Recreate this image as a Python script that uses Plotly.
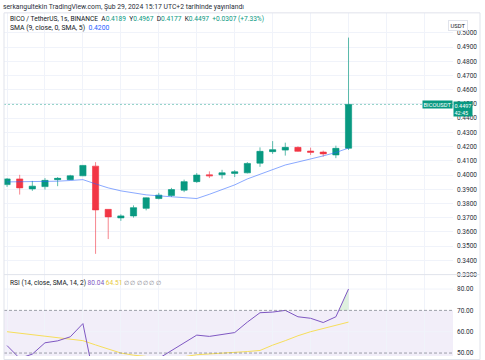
import plotly.graph_objects as go

# ---------------- data ----------------
bars = list(range(28))
open_ = [0.3933, 0.3973, 0.3903, 0.3919, 0.3968, 0.3968, 0.3995, 0.4063, 0.3759, 0.3699,
         0.3713, 0.3766, 0.3835, 0.3856, 0.3894, 0.3954, 0.4002, 0.4002, 0.4012, 0.4016,
         0.4084, 0.4165, 0.4176, 0.4195, 0.4169, 0.4162, 0.4142, 0.4189]
high = [0.3979, 0.4002, 0.3959, 0.3979, 0.3986, 0.4002, 0.4070, 0.4091, 0.3759, 0.3724,
        0.3787, 0.3842, 0.3875, 0.3910, 0.3968, 0.4014, 0.4026, 0.4037, 0.4035, 0.4091,
        0.4195, 0.4239, 0.4228, 0.4202, 0.4193, 0.4172, 0.4207, 0.4967]
low = [0.3917, 0.3863, 0.3889, 0.3898, 0.3922, 0.3965, 0.3993, 0.3446, 0.3550, 0.3678,
       0.3701, 0.3752, 0.3829, 0.3847, 0.3880, 0.3945, 0.3979, 0.3975, 0.3986, 0.4012,
       0.4058, 0.4149, 0.4137, 0.4164, 0.4142, 0.4130, 0.4119, 0.4177]
close = [0.3973, 0.3910, 0.3922, 0.3963, 0.3977, 0.3995, 0.4068, 0.3755, 0.3706, 0.3713,
         0.3771, 0.3840, 0.3859, 0.3898, 0.3954, 0.4000, 0.3995, 0.4016, 0.4023, 0.4082,
         0.4167, 0.4179, 0.4195, 0.4167, 0.4160, 0.4149, 0.4188, 0.4497]
sma9 = [0.3952, 0.3952, 0.3953, 0.3955, 0.3957, 0.3962, 0.3968, 0.3938, 0.3910, 0.3889,
        0.3875, 0.3861, 0.3854, 0.3847, 0.3840, 0.3835, 0.3865, 0.3899, 0.3931, 0.3973,
        0.4005, 0.4042, 0.4071, 0.4092, 0.4112, 0.4135, 0.4159, 0.4190]
rsi = [53.5, 47.5, 49.5, 54.8, 55.7, 57.6, 63.8, 35.0, 31.0, 32.5,
       38.0, 43.5, 47.5, 51.2, 55.0, 58.4, 57.8, 58.7, 59.6, 64.5,
       68.9, 69.2, 70.0, 67.0, 66.3, 64.3, 67.0, 80.04]
rsi_ma = [60.0, 59.3, 58.7, 57.9, 57.2, 56.5, 55.8, 53.8, 51.9, 50.0,
          49.0, 48.2, 47.8, 47.8, 48.3, 49.2, 49.5, 49.9, 50.2, 50.7,
          51.2, 53.7, 55.8, 58.1, 60.0, 61.5, 63.1, 64.51]
price_ticks = [round(0.33 + 0.01 * i, 2) for i in range(18)]
rsi_ticks = [50, 60, 70, 80]

header = "serkangultekin TradingView.com, Şub 29, 2024 15:17 UTC+2 tarihinde yayınlandı"

# ---------------- style ----------------
W, H = 485, 360
GREEN = "#089981"
RED = "#F23645"
PURPLE = "#7E57C2"
YELLOW = "#F6DE5A"
GRID = "#F0F3FA"
TXT = "#131722"
FONT = "Roboto"

x0p, x1p = 4 / W, 453 / W
split = 1 - 277.7 / H
top = 1 - 13 / H
xr = [-0.24, 35.26]

fig = go.Figure()

# RSI band fill 30-70
fig.add_shape(type="rect", xref="x2", yref="y2", x0=xr[0], x1=xr[1], y0=30, y1=70,
              fillcolor="rgba(126,87,194,0.10)", line_width=0, layer="below")

fig.add_trace(go.Candlestick(
    x=bars, open=open_, high=high, low=low, close=close,
    increasing=dict(line=dict(color="rgba(8,153,129,0.65)", width=1), fillcolor=GREEN),
    decreasing=dict(line=dict(color="rgba(242,54,69,0.6)", width=1), fillcolor=RED),
    whiskerwidth=0, xaxis="x", yaxis="y", showlegend=False, hoverinfo="skip"))

fig.add_trace(go.Scatter(x=bars, y=sma9, mode="lines", xaxis="x", yaxis="y",
                         line=dict(color="rgba(41,98,255,0.55)", width=1),
                         showlegend=False, hoverinfo="skip"))

# overbought fill above 70
fx, fy = [], []
for i in range(1, len(rsi)):
    if rsi[i] > 70 and rsi[i - 1] <= 70:
        t = (70 - rsi[i - 1]) / (rsi[i] - rsi[i - 1])
        xc = bars[i - 1] + t * (bars[i] - bars[i - 1])
        fx += [xc, bars[i], bars[i], xc]
        fy += [70, rsi[i], 70, 70]
if fx:
    fig.add_trace(go.Scatter(x=fx, y=fy, mode="lines", fill="toself",
                             fillcolor="rgba(76,175,80,0.18)", line=dict(width=0),
                             xaxis="x2", yaxis="y2", showlegend=False, hoverinfo="skip"))

fig.add_trace(go.Scatter(x=bars, y=rsi_ma, mode="lines", xaxis="x2", yaxis="y2",
                         line=dict(color=YELLOW, width=1), showlegend=False, hoverinfo="skip"))
fig.add_trace(go.Scatter(x=bars, y=rsi, mode="lines", xaxis="x2", yaxis="y2",
                         line=dict(color=PURPLE, width=1), showlegend=False, hoverinfo="skip"))

# RSI grid & band lines
for v in [60, 80]:
    fig.add_shape(type="line", xref="x2", yref="y2", x0=xr[0], x1=xr[1], y0=v, y1=v,
                  line=dict(color=GRID, width=1), layer="below")
for v in [70, 50, 30]:
    fig.add_shape(type="line", xref="x2", yref="y2", x0=xr[0], x1=xr[1], y0=v, y1=v,
                  line=dict(color="rgba(120,123,134,0.7)", width=1, dash="3px,2px"))

# price line
fig.add_shape(type="line", xref="paper", yref="y", x0=x0p, x1=x1p, y0=close[-1], y1=close[-1],
              line=dict(color="rgba(8,153,129,0.45)", width=1, dash="2px,2px"))

# pane separator and frame
fig.add_shape(type="line", xref="paper", yref="paper", x0=x0p, x1=480 / W, y0=split, y1=split,
              line=dict(color="#E0E3EB", width=1))
fig.add_shape(type="rect", xref="paper", yref="paper", x0=x0p, x1=480 / W, y0=-0.01, y1=top,
              line=dict(color="#E0E3EB", width=1))

axis_common = dict(showline=False, zeroline=False, ticks="", fixedrange=True)
fig.update_layout(
    width=W, height=H, margin=dict(l=0, r=0, t=0, b=0), autosize=False,
    paper_bgcolor="white", plot_bgcolor="white",
    font=dict(family=FONT, size=6.5, color=TXT),
    xaxis=dict(domain=[x0p, x1p], range=xr, anchor="y", showticklabels=False,
               showgrid=True, gridcolor=GRID, gridwidth=1, tick0=0, dtick=3,
               rangeslider=dict(visible=False), **axis_common),
    yaxis=dict(domain=[split, top], range=[0.3300, 0.5141], side="right", anchor="x",
               tickvals=price_ticks, tickformat=".4f", showgrid=True, gridcolor=GRID,
               tickfont=dict(size=6.5, color="#2a2e39"), ticklabelstandoff=3, **axis_common),
    xaxis2=dict(domain=[x0p, x1p], range=xr, anchor="y2", showticklabels=False,
                showgrid=True, gridcolor=GRID, gridwidth=1, tick0=0, dtick=3, **axis_common),
    yaxis2=dict(domain=[0, split], range=[48.61, 86.77], side="right", anchor="x2",
                tickvals=rsi_ticks, tickformat=".2f", showgrid=False,
                tickfont=dict(size=6.5, color="#2a2e39"), ticklabelstandoff=3, **axis_common),
)

def g(s):
    return f'<span style="color:{GREEN}">{s}</span>'

ann = [
    dict(x=0.5 / W, y=1 - 7 / H, text=header, font=dict(size=6.8, color="#2a2e39")),
    dict(x=8 / W, y=1 - 19 / H,
         text=("BICO / TetherUS, 1s, BINANCE  A" + g(f"{open_[-1]:.4f}") + "  Y" + g(f"{max(high):.4f}")
               + "  D" + g(f"{low[-1]:.4f}") + "  K" + g(f"{close[-1]:.4f}")
               + "  " + g("+0.0307 (+7.33%)")),
         font=dict(size=6.6, color=TXT)),
    dict(x=8 / W, y=1 - 28 / H,
         text='SMA (9, close, 0, SMA, 5)  <span style="color:#2962FF">0.4200</span>',
         font=dict(size=6.8, color=TXT)),
    dict(x=8 / W, y=1 - 285.7 / H,
         text=(f'RSI (14, close, SMA, 14, 2) <span style="color:{PURPLE}">{rsi[-1]:.2f}</span> '
               f'<span style="color:#E8C93A">{rsi_ma[-1]:.2f}</span> '
               '<span style="color:#787B86;font-size:5.5px">∅ ∅ ∅ ∅ ∅ ∅</span>'),
         font=dict(size=6.6, color=TXT)),
]
for a in ann:
    fig.add_annotation(xref="paper", yref="paper", xanchor="left", yanchor="middle",
                       showarrow=False, **a)

# USDT box
fig.add_annotation(xref="paper", yref="paper", x=467.5 / W, y=1 - 20 / H, text="USDT",
                   showarrow=False, font=dict(size=5.8, color=TXT), bgcolor="white",
                   bordercolor="#E0E3EB", borderwidth=1, borderpad=1.5)
# price tags
fig.add_annotation(xref="paper", yref="y", x=x1p, y=close[-1], xanchor="right", yanchor="middle",
                   text="BICOUSDT", showarrow=False, font=dict(size=5.8, color="white"),
                   bgcolor=GREEN, borderpad=0.5)
fig.add_annotation(xref="paper", yref="y", x=x1p, y=close[-1], xanchor="left", yanchor="top",
                   yshift=3.5, text=f"{close[-1]:.4f}<br>42:45", showarrow=False, align="left",
                   font=dict(size=5.5, color="white"), bgcolor=GREEN, borderpad=0.5)

fig.write_html("out.html", config={"displayModeBar": False, "responsive": False},
               post_script="document.body.style.margin='0';document.body.style.overflow='hidden';")
